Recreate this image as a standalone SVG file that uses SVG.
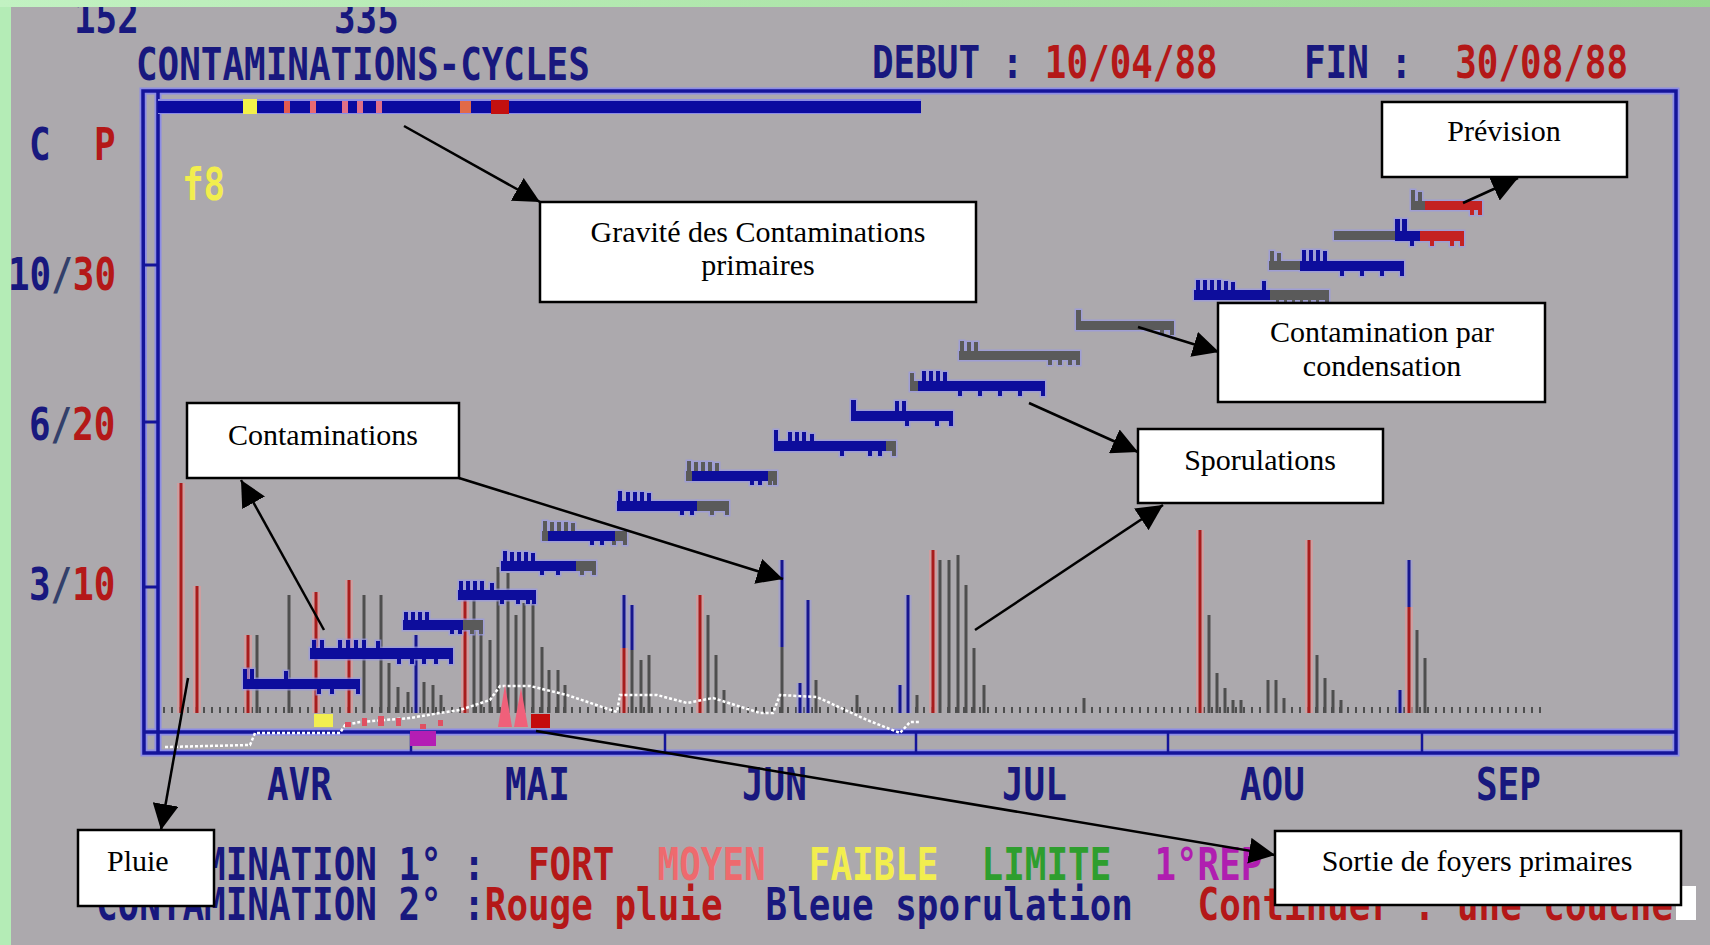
<svg xmlns="http://www.w3.org/2000/svg" xmlns:xlink="http://www.w3.org/1999/xlink" width="1710" height="945" viewBox="0 0 1710 945">
  <style>
    .dos { font-family: "DejaVu Sans Mono", "Liberation Mono", monospace; font-weight: bold; font-size: 35.9px; }
    .nv { fill: #18187e; }
    .rd { fill: #b41818; }
    .sl { fill: #33406a; }
    .ye { fill: #f2ee4e; }
    .pk { fill: #ee6a6e; }
    .gn { fill: #2e9e2e; }
    .mg { fill: #b01eb0; }
    .lbl { font-family: "Liberation Serif", "Times New Roman", serif; font-size: 30px; fill: #000; }
    .box { fill: #fff; stroke: #000; stroke-width: 2.5; }
    .cb { fill: #0d0d9c; }
    .cg { fill: #5a5a5a; }
    .cr { fill: #c42222; }
    .conn { stroke: #000; stroke-width: 2.5; fill: none; marker-end: url(#ah); }
  </style>
  <defs>
    <linearGradient id="topStrip" x1="0" y1="0" x2="1" y2="0">
      <stop offset="0" stop-color="#c2f2c2"/>
      <stop offset="1" stop-color="#98d890"/>
    </linearGradient>
    <marker id="ah" markerUnits="userSpaceOnUse" viewBox="0 0 26 26" markerWidth="26" markerHeight="26" refX="26" refY="13" orient="auto">
      <path d="M0 0 L26 13 L0 26 z" fill="#000"/>
    </marker>
    <!-- chart frame outline -->
    <path id="frame" d="M143 91 H1676 V753 H144 Z M158 91 V753 M144 732 H1676"/>
    <!-- vertical day bars by colour -->
    <path id="redBars" d="M181 483V713 M197 586V713 M248 635V713 M316 592V713 M349 580V713 M465 595V713 M700 595V713 M933 550V713 M1200 530V713 M1309 540V713 M624 648V713 M1409 607V713"/>
    <path id="blueBars" d="M416 635V713 M624 595V648 M632 605V650 M782 560V647 M800 683V713 M808 600V713 M900 685V713 M908 595V713 M1400 690V713 M1409 560V607"/>
    <!-- infection cycle bars -->
    <g id="cycles">
      <g class="cb">
        <path d="M243 679h117v10h-117z M243 669h4v10h-4z M250 669h4v10h-4z M284 671h4v8h-4z M317 689h4v5h-4z M330 689h4v5h-4z M356 689h4v5h-4z"/>
        <path d="M310 648h143v11h-143z M312 640h4v8h-4z M320 640h4v8h-4z M338 640h4v8h-4z M346 640h4v8h-4z M354 640h4v8h-4z M362 640h4v8h-4z M376 641h4v7h-4z M397 659h4v5h-4z M410 659h4v5h-4z M422 659h4v5h-4z M434 659h4v5h-4z M449 659h4v5h-4z"/>
        <path d="M403 620h60v10h-60z M404 612h4v8h-4z M411 612h4v8h-4z M418 612h4v8h-4z M425 612h4v8h-4z M450 630h4v4h-4z M458 630h4v4h-4z"/>
        <path d="M458 590h78v10h-78z M459 581h4v9h-4z M466 581h4v9h-4z M473 581h4v9h-4z M480 581h4v9h-4z M490 583h4v7h-4z M500 600h4v4h-4z M516 600h4v4h-4z M526 600h4v4h-4z M532 600h4v4h-4z"/>
        <path d="M501 561h75v10h-75z M503 551h4v10h-4z M510 552h4v9h-4z M517 552h4v9h-4z M524 552h4v9h-4z M531 553h4v8h-4z M540 571h4v4h-4z M556 571h4v4h-4z"/>
        <path d="M548 531h67v10h-67z M590 541h4v4h-4z M600 541h4v4h-4z"/>
        <path d="M617 501h80v10h-80z M618 491h4v10h-4z M626 492h4v9h-4z M633 492h4v9h-4z M640 492h4v9h-4z M647 493h4v8h-4z M680 511h4v4h-4z M690 511h4v4h-4z"/>
        <path d="M692 471h76v10h-76z M750 481h4v4h-4z M758 481h4v4h-4z"/>
        <path d="M774 441h112v10h-112z M774 430h4v11h-4z M788 432h4v9h-4z M795 432h4v9h-4z M802 432h4v9h-4z M810 434h4v7h-4z M840 451h4v5h-4z M868 451h4v5h-4z M878 451h4v5h-4z"/>
        <path d="M851 411h102v10h-102z M851 400h5v11h-5z M895 401h4v10h-4z M902 401h4v10h-4z M905 421h4v5h-4z M935 421h4v5h-4z M949 421h4v5h-4z"/>
        <path d="M918 381h127v10h-127z M922 371h4v10h-4z M929 371h4v10h-4z M936 371h4v10h-4z M943 372h4v9h-4z M958 391h4v5h-4z M978 391h4v5h-4z M998 391h4v5h-4z M1018 391h4v5h-4z M1041 391h4v5h-4z"/>
        <path d="M1194 290h76v10h-76z M1196 280h4v10h-4z M1203 280h4v10h-4z M1210 280h4v10h-4z M1217 280h4v10h-4z M1224 281h4v9h-4z M1231 282h4v8h-4z M1262 281h4v9h-4z"/>
        <path d="M1300 261h104v10h-104z M1302 250h4v11h-4z M1309 250h4v11h-4z M1316 250h4v11h-4z M1323 251h4v10h-4z M1340 271h4v5h-4z M1360 271h4v5h-4z M1380 271h4v5h-4z M1400 271h4v5h-4z"/>
        <path d="M1395 231h25v10h-25z M1395 219h5v12h-5z M1402 219h5v12h-5z M1410 241h4v5h-4z"/>
      </g>
      <g class="cg">
        <path d="M463 620h20v10h-20z M470 630h4v4h-4z M479 630h4v4h-4z"/>
        <path d="M576 561h20v10h-20z M580 571h4v4h-4z M592 571h4v4h-4z"/>
        <path d="M542 531h6v10h-6z M615 531h12v10h-12z M543 521h4v10h-4z M550 522h4v9h-4z M557 522h4v9h-4z M564 522h4v9h-4z M571 523h4v8h-4z M612 541h4v4h-4z M623 541h4v4h-4z"/>
        <path d="M697 501h32v10h-32z M710 511h4v4h-4z M725 511h4v4h-4z"/>
        <path d="M686 471h6v10h-6z M768 471h9v10h-9z M687 461h4v10h-4z M694 462h4v9h-4z M701 462h4v9h-4z M708 462h4v9h-4z M715 463h4v8h-4z M768 481h4v4h-4z M773 481h4v4h-4z"/>
        <path d="M886 441h10v10h-10z M892 451h4v5h-4z"/>
        <path d="M910 381h8v10h-8z M910 373h4v8h-4z"/>
        <path d="M959 351h121v9h-121z M960 341h4v10h-4z M967 342h4v9h-4z M974 342h4v9h-4z M1048 360h4v5h-4z M1058 360h4v5h-4z M1068 360h4v5h-4z M1076 360h4v5h-4z"/>
        <path d="M1076 321h98v9h-98z M1076 310h5v11h-5z M1160 330h4v5h-4z M1170 330h4v5h-4z"/>
        <path d="M1270 290h59v10h-59z M1276 300h3v4h-3z M1284 300h3v4h-3z M1292 300h3v4h-3z M1300 300h3v4h-3z M1308 300h3v4h-3z M1316 300h3v4h-3z M1325 300h4v5h-4z"/>
        <path d="M1269 261h31v9h-31z M1270 251h4v10h-4z M1277 253h4v8h-4z"/>
        <path d="M1334 231h61v9h-61z"/>
        <path d="M1411 201h14v9h-14z M1411 190h4v11h-4z M1418 192h4v9h-4z"/>
      </g>
      <g class="cr">
        <path d="M1420 231h44v10h-44z M1430 241h4v5h-4z M1450 241h4v5h-4z M1460 241h4v5h-4z"/>
        <path d="M1425 201h57v9h-57z M1470 210h4v5h-4z M1478 210h4v5h-4z"/>
      </g>
    </g>
  </defs>

  <!-- screen background -->
  <rect x="0" y="0" width="1710" height="945" fill="#aca9ad"/>

  <!-- chart frame -->
  <use xlink:href="#frame" fill="none" stroke="#8c8ce6" stroke-width="7"/>
  <use xlink:href="#frame" fill="none" stroke="#14149a" stroke-width="3.5"/>
  <path d="M144 265H158 M144 422H158 M144 587H158" stroke="#14149a" stroke-width="3"/>
  <path d="M411 732V753 M665 732V753 M916 732V753 M1168 732V753 M1422 732V753" stroke="#14149a" stroke-width="2.5"/>

  <!-- primary contamination severity strip -->
  <rect x="158" y="99" width="763" height="15" fill="#8c8ce6"/>
  <rect x="158" y="101" width="763" height="12" fill="#0a0aa0"/>
  <rect x="243" y="99" width="14" height="15" fill="#f4f04a"/>
  <rect x="284" y="101" width="6" height="12" fill="#e25a50"/>
  <rect x="310" y="101" width="6" height="12" fill="#e86a72"/>
  <rect x="342" y="101" width="6" height="12" fill="#e07088"/>
  <rect x="357" y="101" width="6" height="12" fill="#e07088"/>
  <rect x="376" y="101" width="6" height="12" fill="#e07088"/>
  <rect x="460" y="101" width="11" height="12" fill="#e26a48"/>
  <rect x="491" y="100" width="18" height="14" fill="#c41010"/>

  <!-- daily baseline dots -->
  <path d="M163 710H1545" stroke="#4e4e4e" stroke-width="6" stroke-dasharray="2 6"/>

  <!-- rain and sporulation bars -->
  <use xlink:href="#redBars" stroke="#e69898" stroke-width="8" opacity="0.6"/>
  <use xlink:href="#redBars" stroke="#a81c1c" stroke-width="3"/>
  <path d="M257 635V713 M289 595V713 M364 595V713 M381 595V713 M389 663V713 M398 687V713 M408 692V713 M424 682V713 M433 685V713 M441 695V713 M474 600V713 M481 630V713 M490 640V713 M498 567V713 M508 573V713 M516 615V713 M524 603V713 M533 603V713 M542 647V713 M549 670V713 M558 670V713 M565 685V713 M632 650V713 M641 660V713 M649 655V713 M708 615V713 M716 655V713 M724 690V713 M782 647V713 M816 680V713 M857 695V713 M917 695V713 M940 560V713 M949 560V713 M958 555V713 M966 585V713 M974 648V713 M984 685V713 M1084 698V713 M1209 615V713 M1217 673V713 M1225 688V713 M1233 700V713 M1241 700V713 M1268 680V713 M1276 680V713 M1284 698V713 M1317 655V713 M1325 678V713 M1333 690V713 M1341 700V713 M1417 630V713 M1425 658V713" stroke="#4e4e4e" stroke-width="3"/>
  <use xlink:href="#blueBars" stroke="#9a9ae8" stroke-width="7" opacity="0.5"/>
  <use xlink:href="#blueBars" stroke="#16168e" stroke-width="3"/>

  <!-- temperature trace -->
  <polyline points="165,747 250,745 255,733 340,733 345,725 360,722 410,718 440,713 460,710 490,700 500,686 530,686 567,695 617,712 620,695 657,695 687,703 713,698 760,713 773,713 780,695 817,697 867,720 900,733 910,722 920,722" fill="none" stroke="#ffffff" stroke-width="2.5" stroke-dasharray="3 2"/>

  <!-- event markers on the axis -->
  <g fill="#e05062">
    <rect x="345" y="722" width="6" height="5"/>
    <rect x="362" y="718" width="5" height="8"/>
    <rect x="378" y="716" width="6" height="10"/>
    <rect x="396" y="718" width="5" height="8"/>
    <rect x="420" y="724" width="6" height="5"/>
    <rect x="438" y="720" width="5" height="6"/>
  </g>
  <rect x="314" y="714" width="19" height="13" fill="#f2ee50"/>
  <rect x="410" y="731" width="26" height="15" fill="#b41eb4"/>
  <polygon points="498,727 505,685 512,727" fill="#f0607a"/>
  <polygon points="514,727 521,688 528,727" fill="#f0607a"/>
  <rect x="531" y="714" width="19" height="14" fill="#c40c0c"/>

  <!-- infection cycles -->
  <use xlink:href="#cycles" stroke="#9a9ae6" stroke-width="3" opacity="0.7"/>
  <use xlink:href="#cycles"/>

  <!-- screen texts -->
  <text class="dos nv" transform="translate(74 33) scale(1 1.26)">152</text>
  <text class="dos nv" transform="translate(334 33) scale(1 1.26)">335</text>
  <text class="dos nv" transform="translate(136 80) scale(1 1.26)">CONTAMINATIONS-CYCLES</text>
  <text class="dos" transform="translate(872 78) scale(1 1.26)"><tspan class="nv" x="0">DEBUT :</tspan><tspan class="rd" x="172.8">10/04/88</tspan><tspan class="nv" x="432">FIN :</tspan><tspan class="rd" x="583.2">30/08/88</tspan></text>
  <text class="dos nv" transform="translate(29 160) scale(1 1.26)">C</text>
  <text class="dos rd" transform="translate(94 160) scale(1 1.26)">P</text>
  <text class="dos ye" transform="translate(182 200) scale(1 1.26)">f8</text>
  <text class="dos" transform="translate(8 290) scale(1 1.26)"><tspan class="nv">10</tspan><tspan class="sl">/</tspan><tspan class="rd">30</tspan></text>
  <text class="dos" transform="translate(29 440) scale(1 1.26)"><tspan class="nv">6</tspan><tspan class="sl">/</tspan><tspan class="rd">20</tspan></text>
  <text class="dos" transform="translate(29 600) scale(1 1.26)"><tspan class="nv">3</tspan><tspan class="sl">/</tspan><tspan class="rd">10</tspan></text>
  <g class="dos nv">
    <text transform="translate(267 800) scale(1 1.26)">AVR</text>
    <text transform="translate(505 800) scale(1 1.26)">MAI</text>
    <text transform="translate(742 800) scale(1 1.26)">JUN</text>
    <text transform="translate(1002 800) scale(1 1.26)">JUL</text>
    <text transform="translate(1240 800) scale(1 1.26)">AOU</text>
    <text transform="translate(1476 800) scale(1 1.26)">SEP</text>
  </g>
  <text class="dos" transform="translate(96 880) scale(1 1.26)"><tspan class="nv" x="0">CONTAMINATION 1° :</tspan><tspan class="rd" x="432">FORT</tspan><tspan class="pk" x="561.6">MOYEN</tspan><tspan class="ye" x="712.8">FAIBLE</tspan><tspan class="gn" x="885.6">LIMITE</tspan><tspan class="mg" x="1058.4">1°REP</tspan></text>
  <text class="dos" transform="translate(96 920) scale(1 1.26)"><tspan class="nv" x="0">CONTAMINATION 2° :</tspan><tspan class="rd" x="388.8">Rouge pluie</tspan><tspan class="nv" x="669.6">Bleue sporulation</tspan><tspan class="rd" x="1101.6">Continuer : une couche</tspan></text>
  <rect x="1676" y="886" width="20" height="34" fill="#ffffff"/>

  <!-- window border -->
  <rect x="0" y="0" width="11" height="945" fill="#b4ecb6"/>
  <rect x="0" y="0" width="1710" height="7" fill="url(#topStrip)"/>

  <!-- callout arrows -->
  <g id="connectors">
    <path class="conn" d="M404 126 L540 202"/>
    <path class="conn" d="M1463 203 L1518 178"/>
    <path class="conn" d="M1138 327 L1219 352"/>
    <path class="conn" d="M1029 403 L1138 452"/>
    <path class="conn" d="M975 630 L1163 505"/>
    <path class="conn" d="M324 630 L241 480"/>
    <path class="conn" d="M459 478 L783 579"/>
    <path class="conn" d="M188 678 L161 830"/>
    <path class="conn" d="M536 731 L1275 855"/>
  </g>

  <!-- callouts -->
  <g id="gravite">
    <rect class="box" x="540" y="202" width="436" height="100"/>
    <text class="lbl" x="758" y="242" text-anchor="middle">Gravité des Contaminations</text>
    <text class="lbl" x="758" y="275" text-anchor="middle">primaires</text>
  </g>
  <g id="prevision">
    <rect class="box" x="1382" y="102" width="245" height="75"/>
    <text class="lbl" x="1504" y="141" text-anchor="middle">Prévision</text>
  </g>
  <g id="condensation">
    <rect class="box" x="1218" y="303" width="327" height="99"/>
    <text class="lbl" x="1382" y="342" text-anchor="middle">Contamination par</text>
    <text class="lbl" x="1382" y="376" text-anchor="middle">condensation</text>
  </g>
  <g id="sporulations">
    <rect class="box" x="1138" y="429" width="245" height="74"/>
    <text class="lbl" x="1260" y="470" text-anchor="middle">Sporulations</text>
  </g>
  <g id="contaminations">
    <rect class="box" x="187" y="403" width="272" height="75"/>
    <text class="lbl" x="323" y="445" text-anchor="middle">Contaminations</text>
  </g>
  <g id="pluie">
    <rect class="box" x="78" y="830" width="136" height="76"/>
    <text class="lbl" x="107" y="871">Pluie</text>
  </g>
  <g id="sortie">
    <rect class="box" x="1275" y="831" width="406" height="74"/>
    <text class="lbl" x="1477" y="871" text-anchor="middle">Sortie de foyers primaires</text>
  </g>
</svg>
